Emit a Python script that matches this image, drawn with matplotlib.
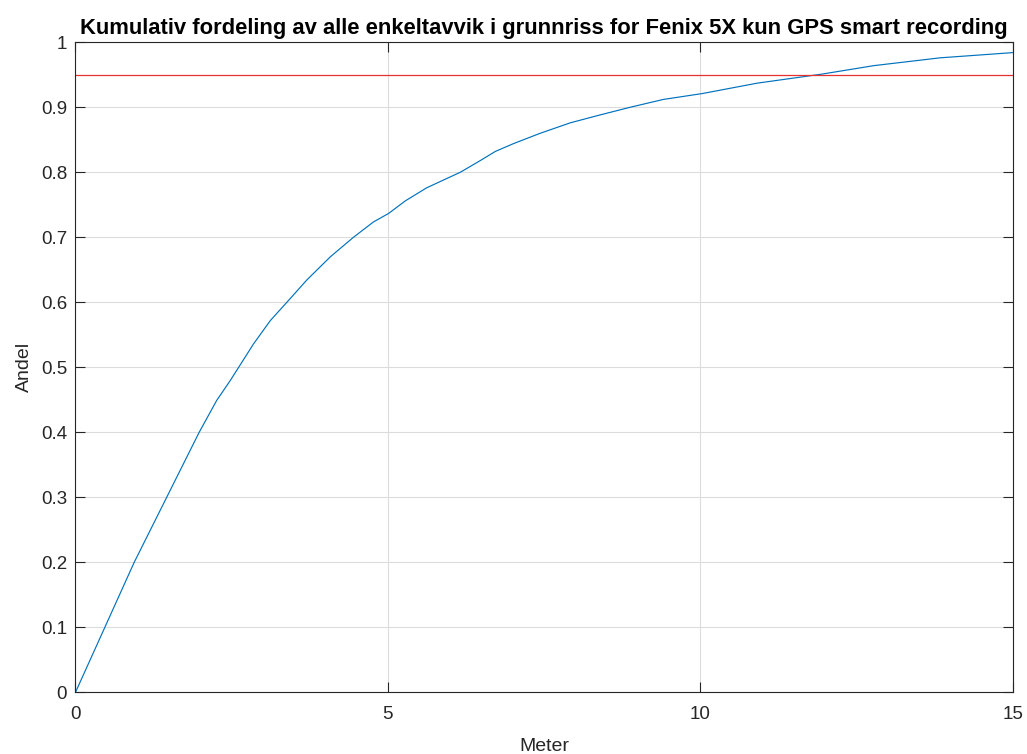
import matplotlib
matplotlib.use("Agg")
import matplotlib.pyplot as plt

# Cumulative share of individual horizontal deviations (metres)
meter = [0.0, 0.47, 0.94, 1.46, 1.98, 2.26, 2.48, 2.85, 3.12, 3.44, 3.70,
         4.08, 4.45, 4.77, 5.01, 5.28, 5.62, 6.16, 6.48, 6.72, 7.01,
         7.44, 7.92, 8.35, 8.88, 9.41, 10.03, 10.91, 11.95, 12.78, 13.84, 15.0]
andel = [0.0, 0.10, 0.20, 0.30, 0.40, 0.449, 0.48, 0.536, 0.572, 0.606, 0.634,
         0.670, 0.700, 0.7236, 0.7365, 0.756, 0.776, 0.800, 0.818, 0.832, 0.844,
         0.860, 0.876, 0.887, 0.900, 0.912, 0.921, 0.937, 0.951, 0.964, 0.976, 0.984]
threshold = 0.95

xticks = [0, 5, 10, 15]
yticks = [round(i * 0.1, 1) for i in range(11)]
ytick_labels = ["0"] + [f"{v:g}" for v in yticks[1:-1]] + ["1"]

plt.rcParams["font.family"] = ["Liberation Sans", "DejaVu Sans"]

fig = plt.figure(figsize=(10.27, 7.54), dpi=100)
ax = fig.add_axes([0.0735, 0.0818, 0.9125, 0.8622])

ax.plot(meter, andel, color="#0072BD", linewidth=0.85)
ax.axhline(threshold, color="#e8302c", linewidth=0.9)

ax.set_xlim(0, 15)
ax.set_ylim(0, 1)
ax.set_xticks(xticks)
ax.set_yticks(yticks)
ax.set_yticklabels(ytick_labels)

ax.grid(True, color="#dcdcdc", linewidth=0.8)
ax.set_axisbelow(True)
ax.tick_params(direction="in", length=7, width=0.8, top=True, right=True,
               labelsize=13.5, colors="#262626")
ax.tick_params(axis="x", pad=10)
ax.tick_params(axis="y", pad=6)
for s in ax.spines.values():
    s.set_color("#262626")
    s.set_linewidth(0.8)

ax.set_title("Kumulativ fordeling av alle enkeltavvik i grunnriss for Fenix 5X kun GPS smart recording",
             fontsize=15.8, fontweight="bold", pad=6)
ax.set_xlabel("Meter", fontsize=14, color="#262626", labelpad=11)
ax.set_ylabel("Andel", fontsize=14, color="#262626", labelpad=6)

fig.savefig("out.png", dpi=100)
